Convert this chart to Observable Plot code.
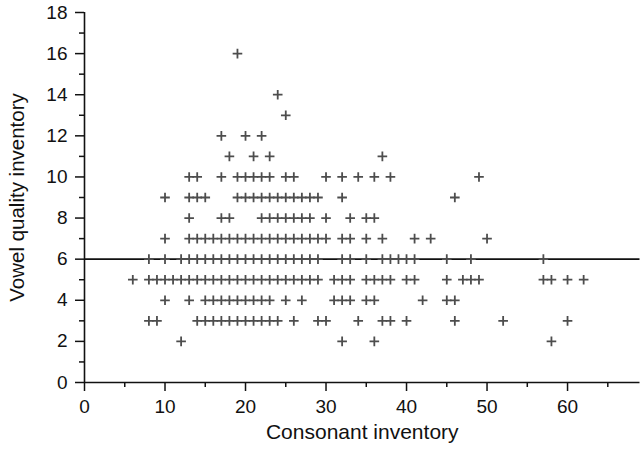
<!DOCTYPE html>
<html>
<head>
<meta charset="utf-8">
<script src="https://cdn.jsdelivr.net/npm/d3@7"></script>
<script src="https://cdn.jsdelivr.net/npm/@observablehq/plot@0.6"></script>
<style>
  html, body { margin: 0; padding: 0; background: #fff; }
  body { width: 642px; height: 454px; overflow: hidden; }
  svg { display: block; }
</style>
</head>
<body>
<div id="chart"></div>
<script>
// Consonant inventory values observed for each vowel quality inventory size
const v2  = [12, 32, 36, 58];
const v3  = [8, 9, 14, 15, 16, 17, 18, 19, 20, 21, 22, 23, 24, 26, 29, 30, 34, 37, 38, 40, 46, 52, 60];
const v4  = [10, 13, 15, 16, 17, 18, 19, 20, 21, 22, 23, 25, 27, 31, 32, 33, 35, 36, 42, 45, 46];
const v5  = [6, 8, 9, 10, 11, 12, 13, 14, 15, 16, 17, 18, 19, 20, 21, 22, 23, 24, 25, 26, 27, 28, 29,
             31, 32, 33, 35, 36, 37, 38, 40, 41, 45, 47, 48, 49, 57, 58, 60, 62];
const v6  = [8, 10, 12, 13, 14, 15, 16, 17, 18, 19, 20, 21, 22, 23, 24, 25, 26, 27, 28, 29,
             32, 33, 35, 37, 38, 39, 40, 41, 45, 48, 57];
const v7  = [10, 13, 14, 15, 16, 17, 18, 19, 20, 21, 22, 23, 24, 25, 26, 27, 28, 29, 30,
             32, 33, 35, 37, 41, 43, 50];
const v8  = [13, 17, 18, 22, 23, 24, 25, 26, 27, 28, 30, 33, 35, 36];
const v9  = [10, 13, 14, 15, 19, 20, 21, 22, 23, 24, 25, 26, 27, 28, 29, 32, 46];
const v10 = [13, 14, 17, 19, 20, 21, 22, 23, 25, 26, 30, 32, 34, 36, 38, 49];
const v11 = [18, 21, 23, 37];
const v12 = [17, 20, 22];
const v13 = [25];
const v14 = [24];
const v16 = [19];

const vowelSizes = [2, 3, 4, 5, 6, 7, 8, 9, 10, 11, 12, 13, 14, 16];
const consonantRows = [v2, v3, v4, v5, v6, v7, v8, v9, v10, v11, v12, v13, v14, v16];

const referenceLine = [6];
const xMajorTicks = [0, 10, 20, 30, 40, 50, 60];
const xMinorTicks = [5, 15, 25, 35, 45, 55, 65];
const yMajorTicks = [0, 2, 4, 6, 8, 10, 12, 14, 16, 18];
const yMinorTicks = [1, 3, 5, 7, 9, 11, 13, 15, 17];

const data = [];
vowelSizes.forEach((v, i) => consonantRows[i].forEach(c => data.push({c, v})));

const font = "'Liberation Sans', Arial, Helvetica, sans-serif";

const chart = Plot.plot({
  width: 642,
  height: 454,
  marginLeft: 84,
  marginRight: 2.5,
  marginTop: 12,
  marginBottom: 72,
  style: {fontFamily: font, color: "#111", background: "#fff"},
  x: {domain: [0, 69]},
  y: {domain: [0, 18]},
  marks: [
    Plot.ruleY(referenceLine, {stroke: "#111", strokeWidth: 1.6}),
    Plot.dot(data, {x: "c", y: "v", symbol: "plus", r: 3.2, stroke: "#4d4d4d", strokeWidth: 1.8}),
    Plot.axisX({ticks: xMajorTicks, tickSize: 9, tickPadding: 8, fontSize: 19, label: null, strokeWidth: 1.5}),
    Plot.axisX({ticks: xMinorTicks, tickSize: 5, text: null, label: null, strokeWidth: 1.5}),
    Plot.axisY({ticks: yMajorTicks, tickSize: 9, tickPadding: 8, fontSize: 19, label: null, strokeWidth: 1.5}),
    Plot.axisY({ticks: yMinorTicks, tickSize: 5, text: null, label: null, strokeWidth: 1.5}),
    Plot.ruleX([0], {stroke: "#111", strokeWidth: 1.6}),
    Plot.ruleY([0], {stroke: "#111", strokeWidth: 1.6}),
    Plot.text(["Consonant inventory"], {frameAnchor: "bottom", dy: 56, fontSize: 21, fill: "#111"}),
    Plot.text(["Vowel quality inventory"], {frameAnchor: "left", textAnchor: "middle", dx: -67, rotate: -90, fontSize: 20.5, fill: "#111"})
  ]
});
document.getElementById("chart").appendChild(chart);
</script>
</body>
</html>
